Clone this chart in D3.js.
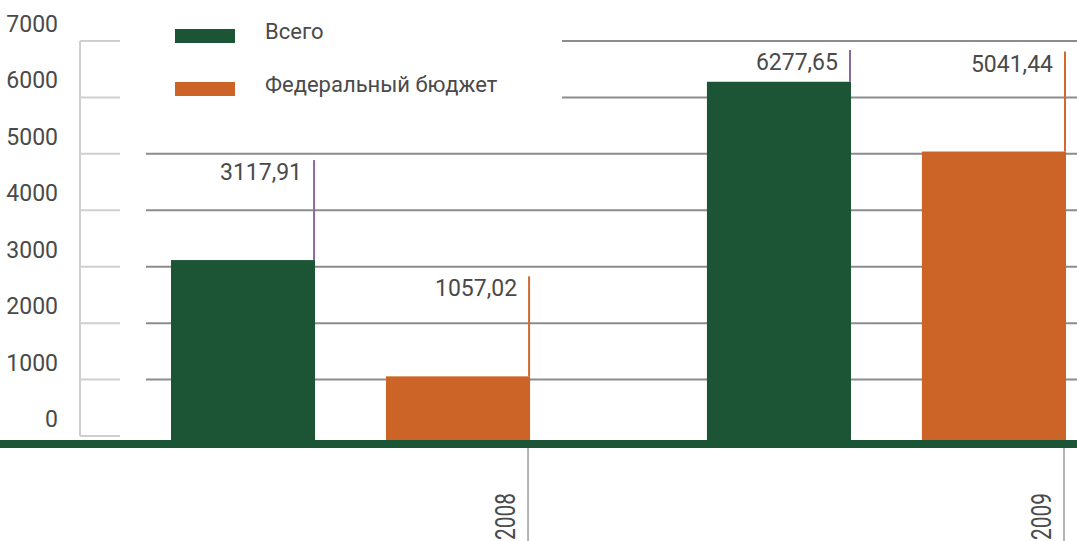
<!DOCTYPE html>
<html>
<head>
<meta charset="utf-8">
<script src="https://cdn.jsdelivr.net/npm/d3@7"></script>
<style>
  html, body { margin: 0; padding: 0; background: #fff; }
  svg { display: block; }
  text { font-family: Roboto, "Liberation Sans", sans-serif; fill: #4a4a4a; }
</style>
</head>
<body>
<svg id="chart" width="1077" height="541"></svg>
<script>
// Categories (years) and series values
const years = ["2008", "2009"];
const seriesNames = ["Всего", "Федеральный бюджет"];
const totalValues = [3117.91, 6277.65];
const federalValues = [1057.02, 5041.44];
const valueLabels = [["3117,91", "1057,02"], ["6277,65", "5041,44"]];
const yTicks = [0, 1000, 2000, 3000, 4000, 5000, 6000, 7000];

const colors = ["#1b5535", "#cc6428"];
const markerColors = ["#8a68a0", "#d2692d"];

const W = 1077, H = 541;
const svg = d3.select("#chart");

const y = d3.scaleLinear().domain([0, 7000]).range([436, 41]);
const x0 = d3.scaleBand().domain(years).range([171, 1066]).paddingInner(0.33).paddingOuter(0);
const x1 = d3.scaleBand().domain(seriesNames).range([0, x0.bandwidth()]).paddingInner(0.33).paddingOuter(0);

const baseTop = 440, baseH = 8;

// Grid lines across the plot
svg.append("g").selectAll("line")
  .data(yTicks.filter(d => d > 0))
  .join("line")
  .attr("x1", 146).attr("x2", W)
  .attr("y1", d => y(d)).attr("y2", d => y(d))
  .attr("stroke", "#8c8c8c").attr("stroke-width", 2);

// Left axis: light ticks and labels
const axisG = svg.append("g");
axisG.append("line")
  .attr("x1", 80).attr("x2", 80).attr("y1", y(7000)).attr("y2", y(0))
  .attr("stroke", "#cfcfcf").attr("stroke-width", 2);
axisG.selectAll("line.tick")
  .data(yTicks).join("line").attr("class", "tick")
  .attr("x1", 80).attr("x2", 120)
  .attr("y1", d => y(d)).attr("y2", d => y(d))
  .attr("stroke", "#cfcfcf").attr("stroke-width", 2);
axisG.selectAll("text")
  .data(yTicks).join("text")
  .attr("x", 58).attr("y", d => y(d) - 9)
  .attr("text-anchor", "end")
  .style("font-size", "23px")
  .text(d => d);

// Legend (white panel hides grid behind it)
const leg = svg.append("g");
leg.append("rect").attr("x", 140).attr("y", 0).attr("width", 422).attr("height", 120).attr("fill", "#fff");
seriesNames.forEach((name, i) => {
  leg.append("rect").attr("x", 175).attr("y", 29 + i * 53).attr("width", 60).attr("height", 14).attr("fill", colors[i]);
  leg.append("text").attr("x", 265).attr("y", 39 + i * 53).style("font-size", "22px").text(name);
});

// Bars
const rows = years.map((yr, i) => ({ year: yr, values: [totalValues[i], federalValues[i]], labels: valueLabels[i] }));
const groups = svg.append("g").selectAll("g")
  .data(rows).join("g")
  .attr("transform", d => `translate(${x0(d.year)},0)`);

groups.selectAll("rect")
  .data(d => d.values.map((v, k) => ({ v, k, name: seriesNames[k] })))
  .join("rect")
  .attr("x", d => x1(d.name))
  .attr("y", d => y(d.v))
  .attr("width", x1.bandwidth())
  .attr("height", d => baseTop + 1 - y(d.v))
  .attr("fill", d => colors[d.k]);

// Value markers: thin line rising from the bar's right edge, label to its left
groups.each(function (d) {
  const g = d3.select(this);
  d.values.forEach((v, k) => {
    const xr = x1(seriesNames[k]) + x1.bandwidth() - 1;
    const top = Math.max(50, y(v) - 100);
    g.append("line")
      .attr("x1", xr).attr("x2", xr).attr("y1", top).attr("y2", y(v))
      .attr("stroke", markerColors[k]).attr("stroke-width", 2);
    g.append("text")
      .attr("x", xr - 12).attr("y", top + 20)
      .attr("text-anchor", "end")
      .style("font-size", "23px")
      .text(d.labels[k]);
  });
});

// Baseline band
svg.append("rect").attr("x", 0).attr("y", baseTop).attr("width", W).attr("height", baseH).attr("fill", "#1b5535");

// Category ticks and rotated year labels
const catG = svg.append("g");
years.forEach(yr => {
  const xt = x0(yr) + x0.bandwidth() - 2;
  catG.append("line")
    .attr("x1", xt).attr("x2", xt).attr("y1", baseTop + baseH).attr("y2", H)
    .attr("stroke", "#b3b3b3").attr("stroke-width", 2);
  catG.append("text")
    .attr("transform", `translate(${xt - 13},493) rotate(-90)`)
    .attr("text-anchor", "end")
    .attr("textLength", 47)
    .attr("lengthAdjust", "spacingAndGlyphs")
    .style("font-size", "27px")
    .text(yr);
});
</script>
</body>
</html>
